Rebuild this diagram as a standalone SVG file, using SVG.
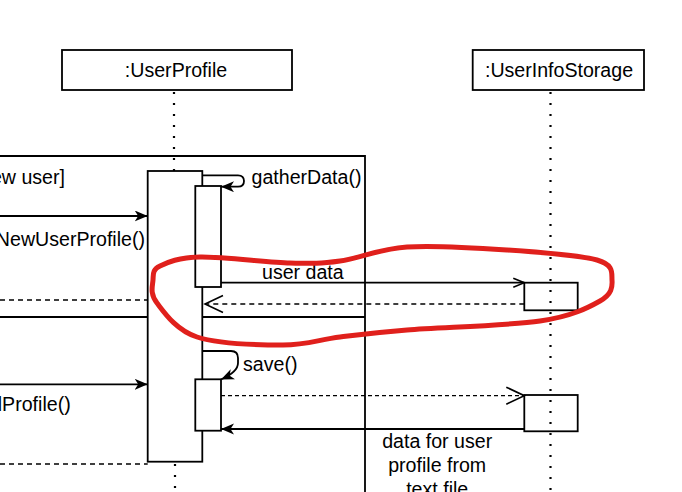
<svg xmlns="http://www.w3.org/2000/svg" width="682" height="492" viewBox="0 0 682 492">
<style>
text{font-family:"Liberation Sans",Arial,sans-serif;font-size:19.6px;fill:#000}
.box{fill:#fff;stroke:#000;stroke-width:1.8}
.act{fill:#fff;stroke:#000;stroke-width:1.8}
.life{fill:none;stroke:#000;stroke-width:2.2;stroke-dasharray:2 9}
.ln{fill:none;stroke:#000;stroke-width:1.8}
.dash{fill:none;stroke:#000;stroke-width:1.6;stroke-dasharray:5 4}
.frame{fill:none;stroke:#000;stroke-width:1.8}
</style>
<defs>
<marker id="filled" markerUnits="userSpaceOnUse" markerWidth="16" markerHeight="12" viewBox="0 0 16 12" refX="13" refY="5.5" orient="auto">
<path d="M0,0 L13,5.5 L0,11 L3.5,5.5 Z" fill="#000"/>
</marker>
<marker id="openS" markerUnits="userSpaceOnUse" markerWidth="14" markerHeight="12" viewBox="-1 -1 14 12" refX="11" refY="4.5" orient="auto">
<path d="M0,0 L11,4.5 L0,9" fill="none" stroke="#000" stroke-width="1.6"/>
</marker>
<marker id="openL" markerUnits="userSpaceOnUse" markerWidth="21" markerHeight="20" viewBox="-1 -1 21 20" refX="18" refY="8.5" orient="auto">
<path d="M0,0 L18,8.5 L0,17" fill="none" stroke="#000" stroke-width="1.6"/>
</marker>
</defs>
<rect width="682" height="492" fill="#fff"/>

<g id="frame">
<path class="frame" d="M0,156 H365 V492"/>
<path class="frame" d="M0,317 H365"/>
<text x="65" y="183.5" text-anchor="end">ew user]</text>
</g>

<g id="lifelines">
<path class="life" d="M174,92 V171"/>
<path class="life" d="M175,464 V492"/>
</g>

<g id="userprofile">
<rect class="box" x="62" y="50" width="230" height="40"/>
<text x="176" y="77" text-anchor="middle">:UserProfile</text>
</g>

<g id="userinfostorage">
<rect class="box" x="472.7" y="50" width="171.3" height="40"/>
<text x="559" y="77" text-anchor="middle">:UserInfoStorage</text>
</g>

<g id="userprofile-activation">
<rect class="act" x="147.7" y="171" width="54.6" height="290.7"/>
</g>
<g id="gather-activation">
<rect class="act" x="195.3" y="186" width="25.7" height="101"/>
</g>
<g id="save-activation">
<rect class="act" x="195.3" y="379.3" width="25.7" height="51.4"/>
</g>
<g id="storage-activation-1">
<rect class="act" x="524.3" y="282.7" width="53.4" height="27.6" fill="none" style="fill:none"/>
</g>
<g id="storage-activation-2">
<rect class="act" x="524.3" y="395" width="53.4" height="36.3" style="fill:none"/>
</g>
<path class="life" d="M550.5,92 V492"/>

<g id="connectors">
<path class="ln" d="M0,216 H147.7" marker-end="url(#filled)"/>
<text x="145" y="246" text-anchor="end">NewUserProfile()</text>
<path class="ln" d="M202.3,175.3 H238 Q244,175.3 244,181 Q244,186.7 238,186.7 H221" marker-end="url(#filled)"/>
<text x="251.5" y="183.5">gatherData()</text>
<path class="ln" d="M221,282.7 H524.3" marker-end="url(#openS)"/>
<text x="262" y="279">user data</text>
<path class="dash" d="M524.3,304 H205" marker-end="url(#openL)"/>
<path class="dash" d="M0,300 H147.7"/>
<path class="ln" d="M202.3,351 H231 Q238,351 238,358 V363 Q238,372 221,379.5" marker-end="url(#filled)"/>
<text x="243" y="370.7">save()</text>
<path class="ln" d="M0,384.3 H147.7" marker-end="url(#filled)"/>
<text x="70.7" y="411" text-anchor="end">lProfile()</text>
<path class="dash" d="M221,395.7 H524.3" marker-end="url(#openL)" style="stroke-width:1.3;stroke-dasharray:4 3"/>
<path class="ln" d="M524.3,429 H221" marker-end="url(#filled)"/>
<text x="437.2" y="448.3" text-anchor="middle">data for user</text>
<text x="437.2" y="472" text-anchor="middle">profile from</text>
<text x="437.2" y="495.5" text-anchor="middle">text file</text>
<path class="dash" d="M0,464 H147.7"/>
</g>

<path id="highlight" fill="none" stroke="#e0201c" stroke-width="5" stroke-linecap="round" stroke-linejoin="round"
d="M160,266 C167.8,262.2 178.3,257.5 200,257 C221.7,256.5 266.7,262.3 290,263 C313.3,263.7 320.5,263.7 340,261 C359.5,258.3 379.2,248.8 407,247 C434.8,245.2 475.3,247.8 507,250 C538.7,252.2 579.5,255 597,260 C614.5,265 611.5,273.2 612,280 C612.5,286.8 612,294.2 600,301 C588,307.8 572.2,316.2 540,321 C507.8,325.8 440.3,327.3 407,330 C373.7,332.7 360.7,334.5 340,337 C319.3,339.5 306.8,345 283,345 C259.2,345 218,344 197,337 C176,330 164.3,312.5 157,303 C149.7,293.5 152.5,286.2 153,280 C153.5,273.8 152.2,269.8 160,266 Z"/>
</svg>
